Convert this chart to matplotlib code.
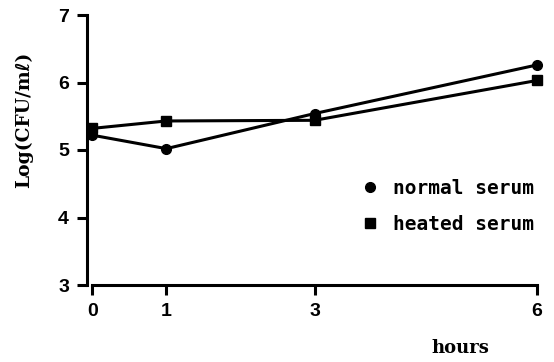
import matplotlib
matplotlib.use("Agg")
import matplotlib.pyplot as plt

hours = [0, 1, 3, 6]
normal_serum = [5.22, 5.02, 5.54, 6.26]
heated_serum = [5.32, 5.43, 5.44, 6.03]
x_ticks = [0, 1, 3, 6]
y_ticks = [3, 4, 5, 6, 7]

fig = plt.figure(figsize=(5.54, 3.62), dpi=100)
ax = fig.add_axes([87/554, 77/362, 450/554, 270/362])

ax.plot(hours, normal_serum, color="black", linewidth=2.2, marker="o",
        markersize=7, label="normal serum", clip_on=False)
ax.plot(hours, heated_serum, color="black", linewidth=2.2, marker="s",
        markersize=6.5, label="heated serum", clip_on=False)

ax.set_xlim(-0.07, 6)
ax.set_ylim(3, 7)
ax.set_xticks(x_ticks)
ax.set_yticks(y_ticks)

for s in ["top", "right"]:
    ax.spines[s].set_visible(False)
ax.spines["left"].set_linewidth(2.2)
ax.spines["bottom"].set_linewidth(2.2)
ax.spines["bottom"].set_bounds(0, 6)
ax.tick_params(width=2.2, length=7, pad=6, labelsize=14)
for lab in ax.get_xticklabels() + ax.get_yticklabels():
    lab.set_fontweight("bold")
    lab.set_family("Liberation Sans")

ax.set_ylabel("Log(CFU/mℓ)", fontsize=13.5, family=["DejaVu Serif", "DejaVu Sans"],
              fontweight="bold")
ax.yaxis.set_label_coords(-0.12, 0.611)
fig.text(460/554, 1 - 348/362, "hours", fontsize=13, family="DejaVu Serif",
         fontweight="bold", ha="center", va="center")

leg = ax.legend(loc="upper left", bbox_to_anchor=(275/450, 1 - 156/270),
                frameon=False, handlelength=0, handletextpad=1.2,
                labelspacing=0.9, borderaxespad=0,
                prop={"family": "DejaVu Sans Mono", "weight": "bold", "size": 14})
for h in leg.legend_handles:
    h.set_linestyle("none")

fig.savefig("out.png", dpi=100)
